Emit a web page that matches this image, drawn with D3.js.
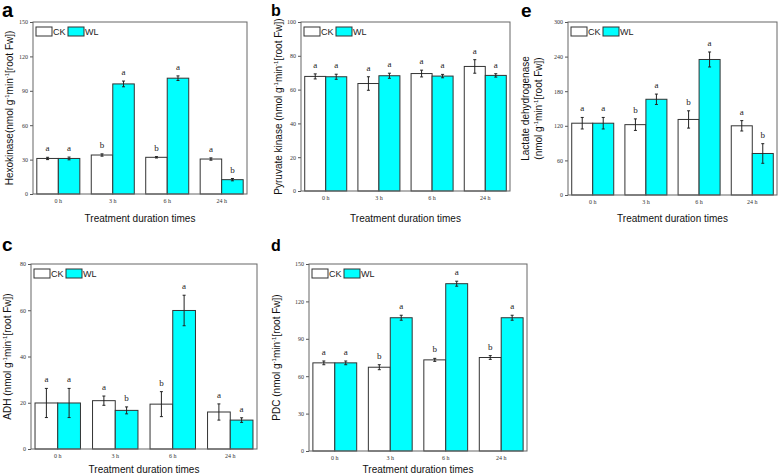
<!DOCTYPE html>
<html><head><meta charset="utf-8">
<script src="https://cdn.jsdelivr.net/npm/d3@7"></script>
<style>body{margin:0;background:#fff}svg{display:block}</style>
</head><body>
<svg id="c" width="778" height="475"></svg>
<script>
const times = ["0 h", "3 h", "6 h", "24 h"];
const series = ["CK", "WL"];

const hkCK = [31, 34, 32, 30.5];
const hkWL = [31, 96, 101, 12.5];
const hkErrCK = [1, 1, 0.6, 1];
const hkErrWL = [1.2, 2.5, 2, 1];
const hkLetCK = ["a", "b", "b", "a"];
const hkLetWL = ["a", "a", "a", "b"];
const hkTicks = [0, 30, 60, 90, 120, 150];

const pkCK = [67.8, 63.6, 69.5, 73.7];
const pkWL = [67.6, 68.2, 68, 68.4];
const pkErrCK = [1.5, 4, 2, 4];
const pkErrWL = [1.5, 1.5, 1, 1];
const pkLetCK = ["a", "a", "a", "a"];
const pkLetWL = ["a", "a", "a", "a"];
const pkTicks = [0, 20, 40, 60, 80, 100];

const ldhCK = [124.5, 122, 131, 120];
const ldhWL = [124.5, 166, 235, 72];
const ldhErrCK = [10, 10, 15, 9];
const ldhErrWL = [10, 9, 13, 17];
const ldhLetCK = ["a", "b", "b", "a"];
const ldhLetWL = ["a", "a", "a", "b"];
const ldhTicks = [0, 60, 120, 180, 240, 300];

const adhCK = [19.9, 20.9, 19.4, 16];
const adhWL = [19.9, 16.7, 59.9, 12.5];
const adhErrCK = [6.3, 2, 5.4, 3.5];
const adhErrWL = [6.3, 1.5, 6.6, 1];
const adhLetCK = ["a", "a", "b", "a"];
const adhLetWL = ["a", "b", "a", "a"];
const adhTicks = [0, 20, 40, 60, 80];

const pdcCK = [70.7, 67.2, 73.1, 75];
const pdcWL = [70.7, 106.9, 134.2, 106.9];
const pdcErrCK = [1.5, 2, 1.2, 1.5];
const pdcErrWL = [1.5, 2, 2, 2];
const pdcLetCK = ["a", "b", "b", "b"];
const pdcLetWL = ["a", "a", "a", "a"];
const pdcTicks = [0, 30, 60, 90, 120, 150];

const xTitle = "Treatment duration times";
const colors = {CK: "#ffffff", WL: "#00ffff"};

const svg = d3.select("#c");

function panel(o) {
  const g = svg.append("g");
  const x = d3.scaleBand().domain(times).range([o.l, o.r]).paddingInner(0.21).paddingOuter(0.07);
  const xs = d3.scaleBand().domain(series).range([0, x.bandwidth()]);
  const y = d3.scaleLinear().domain([0, o.ticks[o.ticks.length - 1]]).range([o.b, o.t]);

  const ya = g.append("g").attr("transform", `translate(${o.l},0)`)
    .call(d3.axisLeft(y).tickValues(o.ticks).tickSize(3).tickPadding(2));
  ya.select(".domain").remove();
  ya.selectAll("line").attr("stroke", "#555");
  ya.selectAll("text").attr("font-family", "Liberation Serif").attr("font-size", 6).attr("fill", "#333");

  const xa = g.append("g").attr("transform", `translate(0,${o.b})`)
    .call(d3.axisBottom(x).tickSize(0).tickPadding(o.xpad));
  xa.select(".domain").remove();
  xa.selectAll("text").attr("font-family", "Liberation Serif").attr("font-size", 6).attr("fill", "#333");

  const rows = [];
  times.forEach((t, i) => {
    rows.push({t, s: "CK", v: o.ck[i], e: o.eck[i], l: o.lck[i]});
    rows.push({t, s: "WL", v: o.wl[i], e: o.ewl[i], l: o.lwl[i]});
  });

  g.selectAll("rect.bar").data(rows).join("rect").attr("class", "bar")
    .attr("x", d => x(d.t) + xs(d.s))
    .attr("y", d => y(d.v))
    .attr("width", xs.bandwidth())
    .attr("height", d => y(0) - y(d.v))
    .attr("fill", d => colors[d.s])
    .attr("stroke", "#333").attr("stroke-width", 1);

  const cx = d => x(d.t) + xs(d.s) + xs.bandwidth() / 2;
  const eb = g.selectAll("g.eb").data(rows).join("g").attr("class", "eb")
    .attr("stroke", "#222").attr("stroke-width", 1);
  eb.append("line").attr("x1", cx).attr("x2", cx).attr("y1", d => y(d.v + d.e)).attr("y2", d => y(d.v - d.e));
  eb.append("line").attr("x1", d => cx(d) - 1.5).attr("x2", d => cx(d) + 1.5).attr("y1", d => y(d.v + d.e)).attr("y2", d => y(d.v + d.e));
  eb.append("line").attr("x1", d => cx(d) - 1.5).attr("x2", d => cx(d) + 1.5).attr("y1", d => y(d.v - d.e)).attr("y2", d => y(d.v - d.e));

  g.selectAll("text.let").data(rows).join("text").attr("class", "let")
    .attr("x", cx).attr("y", d => y(d.v + d.e) - 6)
    .attr("text-anchor", "middle").attr("font-family", "Liberation Serif").attr("font-size", 9).attr("fill", "#222")
    .text(d => d.l);

  g.append("rect").attr("x", o.l).attr("y", o.t).attr("width", o.r - o.l).attr("height", o.b - o.t)
    .attr("fill", "none").attr("stroke", "#666").attr("stroke-width", 1);

  const lg = g.append("g").attr("transform", `translate(${o.l + 3},${o.t + 5})`);
  series.forEach((s, i) => {
    lg.append("rect").attr("x", i * 32).attr("y", 0).attr("width", 16).attr("height", 9)
      .attr("fill", colors[s]).attr("stroke", "#333").attr("stroke-width", 1);
    lg.append("text").attr("x", i * 32 + 17).attr("y", 8).attr("font-family", "Liberation Sans")
      .attr("font-size", 9).attr("fill", "#222").text(s);
  });

  g.append("text").attr("x", (o.l + o.r) / 2).attr("y", o.xt).attr("text-anchor", "middle")
    .attr("font-family", "Liberation Sans").attr("font-size", 10).attr("fill", "#111").text(xTitle);

  o.ytitle.forEach((line, k) => {
    const tx = g.append("text")
      .attr("transform", `translate(${o.yx[k]},${(o.t + o.b) / 2}) rotate(-90)`)
      .attr("text-anchor", "middle").attr("font-family", "Liberation Sans").attr("font-size", 10).attr("fill", "#111");
    line.forEach(part => {
      const ts = tx.append("tspan").text(part[0]);
      if (part[1]) ts.attr("font-size", 6).attr("dy", -4);
      else if (part[2]) ts.attr("dy", 4);
    });
  });

  g.append("text").attr("x", o.px).attr("y", o.py).attr("font-family", "Liberation Sans")
    .attr("font-weight", "bold").attr("font-size", o.ps).attr("fill", "#000").text(o.letter);
}

function unitParts(prefix) {
  return [[prefix + "nmol g"], ["-1", true], ["min", false, true], ["-1", true], ["[root Fw])", false, true]];
}

panel({l: 33, r: 247, t: 22, b: 194, ck: hkCK, wl: hkWL, eck: hkErrCK, ewl: hkErrWL, lck: hkLetCK, lwl: hkLetWL,
  ticks: hkTicks, xpad: 5, xt: 222, yx: [13], ytitle: [unitParts("Hexokinase(")], letter: "a", px: 2, py: 17, ps: 20});
panel({l: 301, r: 510, t: 22, b: 191, ck: pkCK, wl: pkWL, eck: pkErrCK, ewl: pkErrWL, lck: pkLetCK, lwl: pkLetWL,
  ticks: pkTicks, xpad: 5, xt: 222, yx: [282], ytitle: [unitParts("Pyruvate kinase (")], letter: "b", px: 271, py: 16, ps: 16});
panel({l: 568, r: 777, t: 22, b: 195, ck: ldhCK, wl: ldhWL, eck: ldhErrCK, ewl: ldhErrWL, lck: ldhLetCK, lwl: ldhLetWL,
  ticks: ldhTicks, xpad: 5, xt: 222, yx: [529, 542], ytitle: [[["Lactate dehydrogenase"]], unitParts("(")], letter: "e", px: 521, py: 17, ps: 19});
panel({l: 31, r: 257, t: 264, b: 449, ck: adhCK, wl: adhWL, eck: adhErrCK, ewl: adhErrWL, lck: adhLetCK, lwl: adhLetWL,
  ticks: adhTicks, xpad: 5, xt: 473, yx: [11], ytitle: [unitParts("ADH (")], letter: "c", px: 2, py: 251, ps: 19});
panel({l: 309, r: 527, t: 264, b: 451, ck: pdcCK, wl: pdcWL, eck: pdcErrCK, ewl: pdcErrWL, lck: pdcLetCK, lwl: pdcLetWL,
  ticks: pdcTicks, xpad: 5, xt: 473, yx: [280], ytitle: [unitParts("PDC (")], letter: "d", px: 271, py: 251, ps: 16});
</script>
</body></html>
